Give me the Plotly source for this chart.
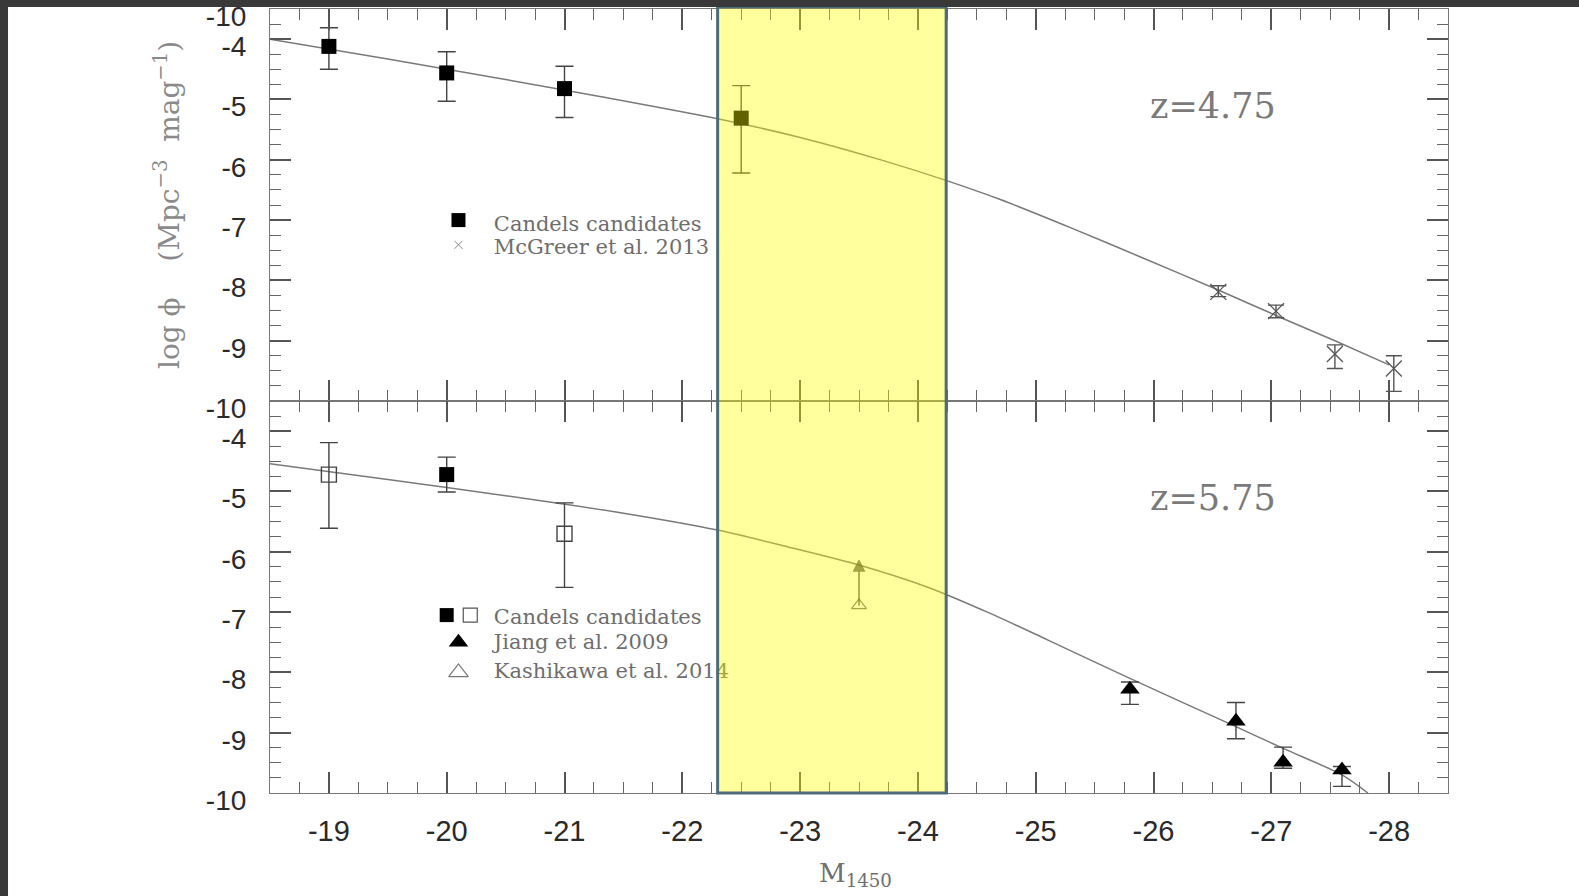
import plotly.graph_objects as go

# ---------------- data ----------------
x_ticks = [-19, -20, -21, -22, -23, -24, -25, -26, -27, -28]
x_ticktext = ["-19", "-20", "-21", "-22", "-23", "-24", "-25", "-26", "-27", "-28"]
y_ticks_top = [-3.5, -4, -5, -6, -7, -8, -9, -10]
y_ticktext_top = ["-10", "-4", "-5", "-6", "-7", "-8", "-9", "-10"]
y_ticks_bot = [-4, -5, -6, -7, -8, -9, -10]
y_ticktext_bot = ["-4", "-5", "-6", "-7", "-8", "-9", "-10"]

# z = 4.75 panel
top_line_x = [-18.5, -19.5, -20.5, -21.3, -22.3, -23.0, -23.7, -24.25, -24.7, -25.3, -25.9, -26.55, -27.05, -27.55, -28.0]
top_line_y = [-4.00, -4.33, -4.67, -4.95, -5.32, -5.63, -6.01, -6.35, -6.66, -7.13, -7.62, -8.16, -8.59, -9.01, -9.40]

candels_top_x = [-19, -20, -21, -22.5]
candels_top_y = [-4.12, -4.56, -4.82, -5.31]
candels_top_up = [0.31, 0.35, 0.37, 0.54]
candels_top_dn = [0.38, 0.47, 0.48, 0.91]

mcgreer_x = [-26.55, -27.04, -27.54, -28.04]
mcgreer_y = [-8.19, -8.51, -9.22, -9.46]
mcgreer_up = [0.10, 0.10, 0.15, 0.21]
mcgreer_dn = [0.08, 0.11, 0.24, 0.38]

# z = 5.75 panel
bot_line_x = [-18.5, -19.5, -20.5, -21.5, -22.3, -22.9, -23.5, -24.1, -24.6, -25.1, -25.8, -26.7, -27.1, -27.6, -27.82]
bot_line_y = [-4.54, -4.80, -5.07, -5.36, -5.64, -5.92, -6.22, -6.60, -7.01, -7.46, -8.10, -8.90, -9.26, -9.70, -10.0]

candels_bot_fill_x = [-20]
candels_bot_fill_y = [-4.72]
candels_bot_fill_up = [0.29]
candels_bot_fill_dn = [0.29]

candels_bot_open_x = [-19, -21]
candels_bot_open_y = [-4.72, -5.70]
candels_bot_open_up = [0.53, 0.51]
candels_bot_open_dn = [0.89, 0.89]

jiang_x = [-25.80, -26.70, -27.10, -27.60]
jiang_y = [-8.28, -8.81, -9.49, -9.62]
jiang_up = [0.12, 0.31, 0.25, 0.06]
jiang_dn = [0.25, 0.29, 0.10, 0.27]

kashikawa_x = [-23.5]
kashikawa_y = [-6.89]
kashikawa_limit_y = [-6.14]

# legend entries (data units)
leg_top_text = ["Candels candidates", "McGreer et al. 2013"]
leg_top_text_y = [-7.09, -7.48]
leg_bot_text = ["Candels candidates", "Jiang et al. 2009", "Kashikawa et al. 2014"]
leg_bot_text_y = [-7.11, -7.52, -8.01]
leg_text_x = -20.40
leg_sym_x = -20.10
leg_top_sym_y = [-7.00, -7.41]
leg_bot_sq_x = [-20.0, -20.20]
leg_bot_sq_y = -7.05
leg_bot_tri_y = [-7.50, -8.00]

z_labels = ["z=4.75", "z=5.75"]
z_label_x = -25.97
z_label_y = -5.16

highlight_x = [-22.3, -24.24]

# ---------------- style ----------------
INK = "#2a2a2a"
LINE = "#7a7a7a"
TXT = "#6e6e6e"
SERIF = "DejaVu Serif, serif"
SANS = "Liberation Sans, Arial, sans-serif"


def eb(up, dn, color="#444", width=9):
    return dict(type="data", symmetric=False, array=up, arrayminus=dn,
                width=width, thickness=1.4, color=color)


fig = go.Figure()

# ----- top panel -----
fig.add_trace(go.Scatter(x=top_line_x, y=top_line_y, mode="lines",
                         line=dict(color=LINE, width=1.5, shape="spline", smoothing=0.8),
                         xaxis="x", yaxis="y", hoverinfo="skip"))
fig.add_trace(go.Scatter(x=candels_top_x, y=candels_top_y, mode="markers",
                         marker=dict(symbol="square", size=15, color="#000"),
                         error_y=eb(candels_top_up, candels_top_dn),
                         xaxis="x", yaxis="y"))
fig.add_trace(go.Scatter(x=mcgreer_x, y=mcgreer_y, mode="markers",
                         marker=dict(symbol="x-thin", size=16, color="#555",
                                     line=dict(width=1.3, color="#555")),
                         error_y=eb(mcgreer_up, mcgreer_dn, color="#555", width=8),
                         xaxis="x", yaxis="y"))
# legend (top)
fig.add_trace(go.Scatter(x=[leg_sym_x], y=[leg_top_sym_y[0]], mode="markers",
                         marker=dict(symbol="square", size=14, color="#000"),
                         xaxis="x", yaxis="y", hoverinfo="skip"))
fig.add_trace(go.Scatter(x=[leg_sym_x], y=[leg_top_sym_y[1]], mode="markers",
                         marker=dict(symbol="x-thin", size=8, color="#888",
                                     line=dict(width=1, color="#888")),
                         xaxis="x", yaxis="y", hoverinfo="skip"))
fig.add_trace(go.Scatter(x=[leg_text_x] * len(leg_top_text), y=leg_top_text_y,
                         mode="text", text=leg_top_text, textposition="middle right",
                         textfont=dict(family=SERIF, size=21, color=TXT),
                         xaxis="x", yaxis="y", hoverinfo="skip"))
fig.add_trace(go.Scatter(x=[z_label_x], y=[z_label_y], mode="text", text=[z_labels[0]],
                         textposition="middle right",
                         textfont=dict(family=SERIF, size=35, color="#7a7a7a"),
                         xaxis="x", yaxis="y", hoverinfo="skip"))

# ----- bottom panel -----
fig.add_trace(go.Scatter(x=bot_line_x, y=bot_line_y, mode="lines",
                         line=dict(color=LINE, width=1.5, shape="spline", smoothing=0.8),
                         xaxis="x2", yaxis="y2", hoverinfo="skip"))
fig.add_trace(go.Scatter(x=candels_bot_open_x, y=candels_bot_open_y, mode="markers",
                         marker=dict(symbol="square-open", size=15, color="#444",
                                     line=dict(width=1.4, color="#444")),
                         error_y=eb(candels_bot_open_up, candels_bot_open_dn),
                         xaxis="x2", yaxis="y2"))
fig.add_trace(go.Scatter(x=candels_bot_fill_x, y=candels_bot_fill_y, mode="markers",
                         marker=dict(symbol="square", size=15, color="#000"),
                         error_y=eb(candels_bot_fill_up, candels_bot_fill_dn),
                         xaxis="x2", yaxis="y2"))
fig.add_trace(go.Scatter(x=jiang_x, y=jiang_y, mode="markers",
                         marker=dict(symbol="triangle-up", size=17, color="#000"),
                         error_y=eb(jiang_up, jiang_dn),
                         xaxis="x2", yaxis="y2"))
fig.add_trace(go.Scatter(x=kashikawa_x + kashikawa_x, y=kashikawa_y + kashikawa_limit_y,
                         mode="lines+markers",
                         line=dict(color="#333", width=1.2),
                         marker=dict(symbol=["triangle-up-open", "arrow-up"], size=[13, 11],
                                     color="#333", line=dict(width=1.2, color="#333")),
                         xaxis="x2", yaxis="y2"))
# legend (bottom)
fig.add_trace(go.Scatter(x=[leg_bot_sq_x[0]], y=[leg_bot_sq_y], mode="markers",
                         marker=dict(symbol="square", size=14, color="#000"),
                         xaxis="x2", yaxis="y2", hoverinfo="skip"))
fig.add_trace(go.Scatter(x=[leg_bot_sq_x[1]], y=[leg_bot_sq_y], mode="markers",
                         marker=dict(symbol="square-open", size=14, color="#555",
                                     line=dict(width=1.2, color="#555")),
                         xaxis="x2", yaxis="y2", hoverinfo="skip"))
fig.add_trace(go.Scatter(x=[leg_sym_x], y=[leg_bot_tri_y[0]], mode="markers",
                         marker=dict(symbol="triangle-up", size=17, color="#000"),
                         xaxis="x2", yaxis="y2", hoverinfo="skip"))
fig.add_trace(go.Scatter(x=[leg_sym_x], y=[leg_bot_tri_y[1]], mode="markers",
                         marker=dict(symbol="triangle-up-open", size=17, color="#777",
                                     line=dict(width=1.2, color="#777")),
                         xaxis="x2", yaxis="y2", hoverinfo="skip"))
fig.add_trace(go.Scatter(x=[leg_text_x] * len(leg_bot_text), y=leg_bot_text_y,
                         mode="text", text=leg_bot_text, textposition="middle right",
                         textfont=dict(family=SERIF, size=21, color=TXT),
                         xaxis="x2", yaxis="y2", hoverinfo="skip"))
fig.add_trace(go.Scatter(x=[z_label_x], y=[z_label_y], mode="text", text=[z_labels[1]],
                         textposition="middle right",
                         textfont=dict(family=SERIF, size=35, color="#7a7a7a"),
                         xaxis="x2", yaxis="y2", hoverinfo="skip"))

# ---------------- axes ----------------
minor_x = dict(ticks="inside", dtick=0.25, tick0=0, ticklen=11, tickwidth=1.2,
               tickcolor="#666", showgrid=False)
minor_y = dict(ticks="inside", dtick=0.25, tick0=0, ticklen=11, tickwidth=1.2,
               tickcolor="#666", showgrid=False)
xcommon = dict(range=[-18.5, -28.5], tickmode="array", tickvals=x_ticks, ticktext=x_ticktext,
               ticks="inside", ticklen=21, tickwidth=1.5, tickcolor="#555",
               showline=True, linecolor="#777", linewidth=1.2, mirror="allticks",
               showgrid=False, zeroline=False, minor=minor_x, automargin=False)
ycommon = dict(range=[-10, -3.5], tickmode="array",
               ticks="inside", ticklen=21, tickwidth=1.5, tickcolor="#555",
               showline=True, linecolor="#777", linewidth=1.2, mirror="allticks",
               showgrid=False, zeroline=False, minor=minor_y, automargin=False,
               tickfont=dict(family=SANS, size=28, color=INK),
               ticklabelshift=7, ticklabelstandoff=17)

fig.update_layout(
    width=1579, height=896,
    margin=dict(l=270, r=131, t=9, b=103, autoexpand=False),
    paper_bgcolor="white", plot_bgcolor="white",
    showlegend=False,
    xaxis=dict(domain=[0, 1], anchor="y", showticklabels=False, **xcommon),
    xaxis2=dict(domain=[0, 1], anchor="y2", matches="x", showticklabels=True,
                tickfont=dict(family=SANS, size=29, color=INK), ticklabelstandoff=12,
                **xcommon),
    yaxis=dict(domain=[0.5, 1], anchor="x", tickvals=y_ticks_top, ticktext=y_ticktext_top,
               **ycommon),
    yaxis2=dict(domain=[0, 0.5], anchor="x2", tickvals=y_ticks_bot, ticktext=y_ticktext_bot,
                **ycommon),
)

# axis titles
fig.add_annotation(text="log \u03d5    (Mpc<sup>\u22123</sup>  mag<sup>\u22121</sup>)",
                   xref="paper", yref="paper", x=-0.0874, y=0.75, textangle=-90,
                   showarrow=False, xanchor="center", yanchor="middle",
                   font=dict(family=SERIF, size=28, color="#8a8a8a"))
fig.add_annotation(text="M<sub>1450</sub>", xref="paper", yref="paper",
                   x=0.497, y=-0.104, showarrow=False, xanchor="center", yanchor="middle",
                   font=dict(family=SERIF, size=26, color="#707070"))

# highlighted band
fig.add_shape(type="rect", xref="x", yref="paper", x0=highlight_x[0], x1=highlight_x[1],
              y0=0, y1=1.0026, layer="above",
              fillcolor="rgba(255,255,0,0.38)", line=dict(color="#4d6b78", width=3))

# dark frame (left and top strips of the screenshot)
fig.add_shape(type="rect", xref="paper", yref="paper", x0=-0.24, x1=-0.2224, y0=-0.2, y1=1.1,
              layer="above", fillcolor="#393939", line=dict(width=0))
fig.add_shape(type="rect", xref="paper", yref="paper", x0=-0.24, x1=1.2, y0=1.0026, y1=1.1,
              layer="above", fillcolor="#393939", line=dict(width=0))

fig.write_html("out.html")
